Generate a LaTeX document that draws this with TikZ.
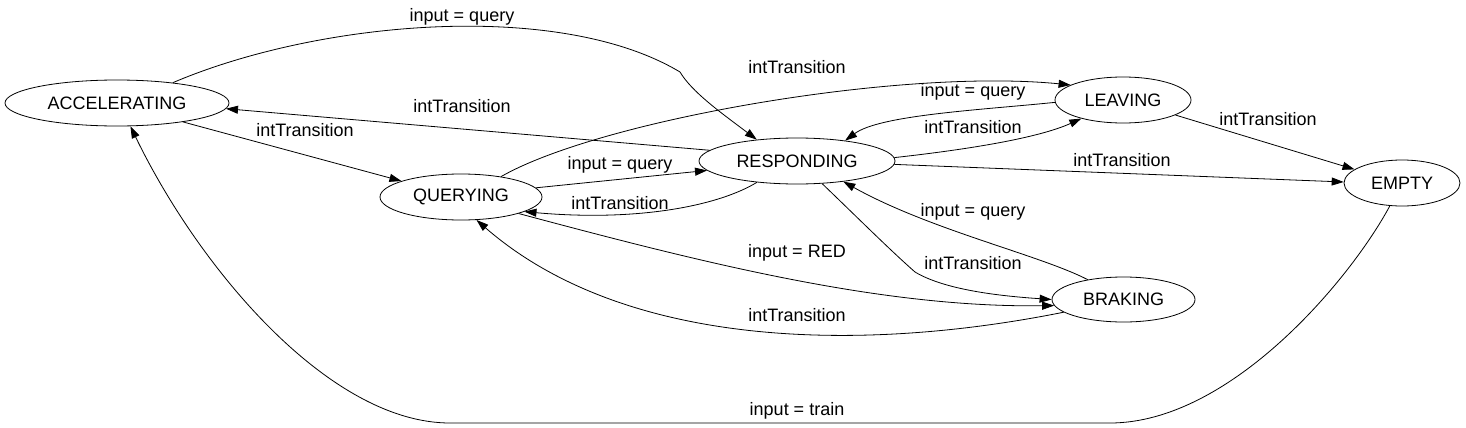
\documentclass[tikz,border=0pt]{standalone}
\usepackage{fontspec}
\setmainfont{Liberation Sans}
\usetikzlibrary{shapes.geometric,arrows.meta}
\tikzset{
  state/.style={ellipse, draw, line width=0.8pt, inner sep=0pt, font=\fontsize{18}{22}\selectfont},
  lbl/.style={font=\fontsize{18}{22}\selectfont, inner sep=0pt},
  edge/.style={line width=0.8pt, -{Triangle[length=12pt,width=8pt]}}
}
\begin{document}
\begin{tikzpicture}[x=1pt,y=-1pt]
\useasboundingbox (0,0) rectangle (1466,428);
% states
\node[state, minimum width=224pt, minimum height=46pt] (acc) at (117,103) {ACCELERATING};
\node[state, minimum width=162pt, minimum height=46pt] (qry) at (461,197) {QUERYING};
\node[state, minimum width=196pt, minimum height=46pt] (rsp) at (797,161) {RESPONDING};
\node[state, minimum width=136pt, minimum height=46pt] (lev) at (1123,100) {LEAVING};
\node[state, minimum width=116pt, minimum height=46pt] (emp) at (1402,183) {EMPTY};
\node[state, minimum width=143pt, minimum height=45pt] (brk) at (1123.5,299.5) {BRAKING};
% edges
\draw[edge] (acc.20) .. controls (320,20) and (560,0) .. (680,72) .. controls (692,92) and (720,112) .. (rsp.152);
\draw[edge] (rsp.173) -- (acc.-3);
\draw[edge] (acc.-16) -- (qry.165);
\draw[edge] (qry.27) .. controls (600,120) and (900,68) .. (lev.164);
\draw[edge] (lev.182) .. controls (980,110) and (880,115) .. (rsp.23);
\draw[edge] (rsp.2) .. controls (990,147) and (1045,135) .. (lev.204);
\draw[edge] (lev.-16) -- (emp.164);
\draw[edge] (rsp.-2) -- (emp.179);
\draw[edge] (qry.7) -- (rsp.186);
\draw[edge] (rsp.208) .. controls (720,205) and (640,222) .. (qry.-13);
\draw[edge] (qry.-16) .. controls (700,262) and (880,308) .. (brk.185);
\draw[edge] (brk.192) .. controls (850,355) and (620,345) .. (qry.-56);
\draw[edge] (brk.151) .. controls (1040,255) and (930,230) .. (rsp.-24);
\draw[edge] (rsp.-42) .. controls (860,220) and (890,250) .. (915,272) .. controls (945,290) and (1000,296) .. (brk.180);
\draw[edge] (emp.242) .. controls (1350,280) and (1230,423) .. (1110,423) -- (450,423) .. controls (330,423) and (200,270) .. (acc.-60);
% labels
\node[lbl] (l1) at (462,17) {input = query};
\node[lbl] (l2) at (462,106) {intTransition};
\node[lbl] (l3) at (305,130) {intTransition};
\node[lbl] (l4) at (797,67) {intTransition};
\node[lbl] (l5) at (973,92) {input = query};
\node[lbl] (l6) at (973,127) {intTransition};
\node[lbl] (l7) at (1268,119) {intTransition};
\node[lbl] (l8) at (1122,160) {intTransition};
\node[lbl] (l9) at (620,165) {input = query};
\node[lbl] (l10) at (620,203) {intTransition};
\node[lbl] (l11) at (797,253) {input = RED};
\node[lbl] (l12) at (797,315) {intTransition};
\node[lbl] (l13) at (973,212) {input = query};
\node[lbl] (l14) at (973,263) {intTransition};
\node[lbl] (l15) at (797,411) {input = train};
\end{tikzpicture}
\end{document}
